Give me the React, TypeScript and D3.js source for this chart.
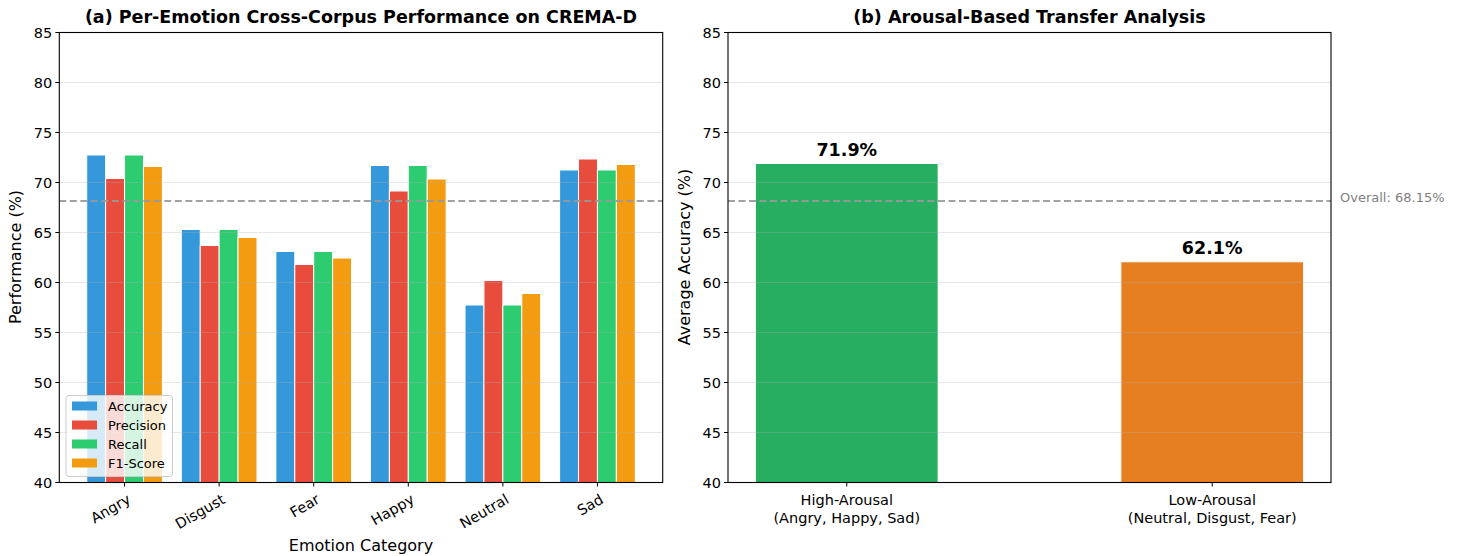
import React from "react";
import * as d3 from "d3";

const emotions = ["Angry", "Disgust", "Fear", "Happy", "Neutral", "Sad"];
const metricNames = ["Accuracy", "Precision", "Recall", "F1-Score"];
const accuracy = [72.75, 65.3, 63.1, 71.7, 57.75, 71.25];
const precision = [70.4, 63.7, 61.8, 69.15, 60.2, 72.35];
const recall = [72.75, 65.3, 63.1, 71.7, 57.75, 71.25];
const f1 = [71.6, 64.5, 62.45, 70.35, 58.9, 71.8];
const metricColors = ["#3498db", "#e74c3c", "#2ecc71", "#f39c12"];

const groupLines = [["High-Arousal", "(Angry, Happy, Sad)"], ["Low-Arousal", "(Neutral, Disgust, Fear)"]];
const groupValues = [71.9, 62.07];
const groupLabels = ["71.9%", "62.1%"];
const groupColors = ["#27ae60", "#e67e22"];
const overall = 68.15;
const yTicks = [40, 45, 50, 55, 60, 65, 70, 75, 80, 85];

const FONT = "DejaVu Sans, sans-serif";

export default function App() {
  const W = 1460, H = 556;
  const y = d3.scaleLinear().domain([40, 85]).range([482.5, 32.5]);
  const xL = d3.scaleLinear().domain([-0.69, 5.69]).range([59.3, 662.7]);
  const xR = d3.scaleLinear().domain([-0.325, 1.325]).range([728, 1331]);
  const series = [accuracy, precision, recall, f1];
  const bw = 0.2;

  const grid = (x0: number, x1: number) =>
    yTicks.slice(1, -1).map((t) => (
      <line key={"g" + t} x1={x0} x2={x1} y1={y(t)} y2={y(t)} stroke="#b0b0b0" strokeOpacity={0.3} strokeWidth={1} />
    ));

  const yAxis = (x0: number) => (
    <g>
      {yTicks.map((t) => (
        <g key={t}>
          <line x1={x0 - 4} x2={x0} y1={y(t)} y2={y(t)} stroke="#000" strokeWidth={1} />
          <text x={x0 - 7} y={y(t)} dy="0.35em" textAnchor="end" fontSize={14.5} fontFamily={FONT}>{t}</text>
        </g>
      ))}
    </g>
  );

  const frame = (x0: number, x1: number) => (
    <rect x={x0} y={y(85)} width={x1 - x0} height={y(40) - y(85)} fill="none" stroke="#000" strokeWidth={1.1} />
  );

  return (
    <svg width={W} height={H} style={{ position: "absolute", left: 0, top: 0, background: "#fff" }}>
      <rect width={W} height={H} fill="#fff" />
      {/* Left panel */}
      {series.map((vals, j) =>
        vals.map((v, i) => {
          const xc = i + (j - 1.5) * bw;
          return (
            <rect key={`b${j}-${i}`} x={xL(xc - bw / 2)} y={y(v)} width={xL(bw) - xL(0)} height={y(40) - y(v)}
              fill={metricColors[j]} stroke="#fff" strokeWidth={1} />
          );
        })
      )}
      {grid(59.3, 662.7)}
      <line x1={59.3} x2={662.7} y1={y(overall)} y2={y(overall)} stroke="#999" strokeWidth={2} strokeDasharray="7,3.5" opacity={0.9} />
      {frame(59.3, 662.7)}
      {yAxis(59.3)}
      {emotions.map((e, i) => (
        <g key={e}>
          <line x1={xL(i)} x2={xL(i)} y1={y(40)} y2={y(40) + 4} stroke="#000" />
          <text transform={`translate(${xL(i) + 2},${y(40) + 11}) rotate(-30)`} textAnchor="end" dy="0.7em"
            fontSize={14.5} fontFamily={FONT}>{e}</text>
        </g>
      ))}
      <text x={361} y={551} textAnchor="middle" fontSize={16} fontFamily={FONT}>Emotion Category</text>
      <text transform="translate(21,257) rotate(-90)" textAnchor="middle" fontSize={16} fontFamily={FONT}>Performance (%)</text>
      <text x={361} y={23} textAnchor="middle" fontSize={17.5} fontWeight="bold" fontFamily={FONT}>(a) Per-Emotion Cross-Corpus Performance on CREMA-D</text>
      {/* Legend */}
      <g>
        <rect x={66} y={395.5} width={106.5} height={81} rx={3} fill="#fff" fillOpacity={0.8} stroke="#ccc" strokeWidth={1} />
        {metricNames.map((m, j) => (
          <g key={m}>
            <rect x={72} y={406 + j * 19 - 4.5} width={25} height={9} fill={metricColors[j]} />
            <text x={108} y={406 + j * 19} dy="0.35em" fontSize={13} fontFamily={FONT}>{m}</text>
          </g>
        ))}
      </g>

      {/* Right panel */}
      {groupValues.map((v, i) => (
        <rect key={"r" + i} x={xR(i - 0.25)} y={y(v)} width={xR(0.5) - xR(0)} height={y(40) - y(v)}
          fill={groupColors[i]} stroke="#fff" strokeWidth={1} />
      ))}
      {grid(728, 1331)}
      <line x1={728} x2={1331} y1={y(overall)} y2={y(overall)} stroke="#999" strokeWidth={2} strokeDasharray="7,3.5" opacity={0.9} />
      {frame(728, 1331)}
      {yAxis(728)}
      {groupValues.map((v, i) => (
        <text key={"l" + i} x={xR(i)} y={y(v) - 8} textAnchor="middle" fontSize={17.5} fontWeight="bold" fontFamily={FONT}>{groupLabels[i]}</text>
      ))}
      {groupLines.map((lines, i) => (
        <g key={"t" + i}>
          <line x1={xR(i)} x2={xR(i)} y1={y(40)} y2={y(40) + 4} stroke="#000" />
          {lines.map((ln, k) => (
            <text key={k} x={xR(i)} y={500 + k * 18} dy="0.35em" textAnchor="middle" fontSize={14.5} fontFamily={FONT}>{ln}</text>
          ))}
        </g>
      ))}
      <text x={1340} y={y(overall) - 4} dy="0.35em" fontSize={13} fill="#808080" fontFamily={FONT}>Overall: 68.15%</text>
      <text transform="translate(690,257) rotate(-90)" textAnchor="middle" fontSize={16} fontFamily={FONT}>Average Accuracy (%)</text>
      <text x={1029.5} y={23} textAnchor="middle" fontSize={17.5} fontWeight="bold" fontFamily={FONT}>(b) Arousal-Based Transfer Analysis</text>
    </svg>
  );
}
